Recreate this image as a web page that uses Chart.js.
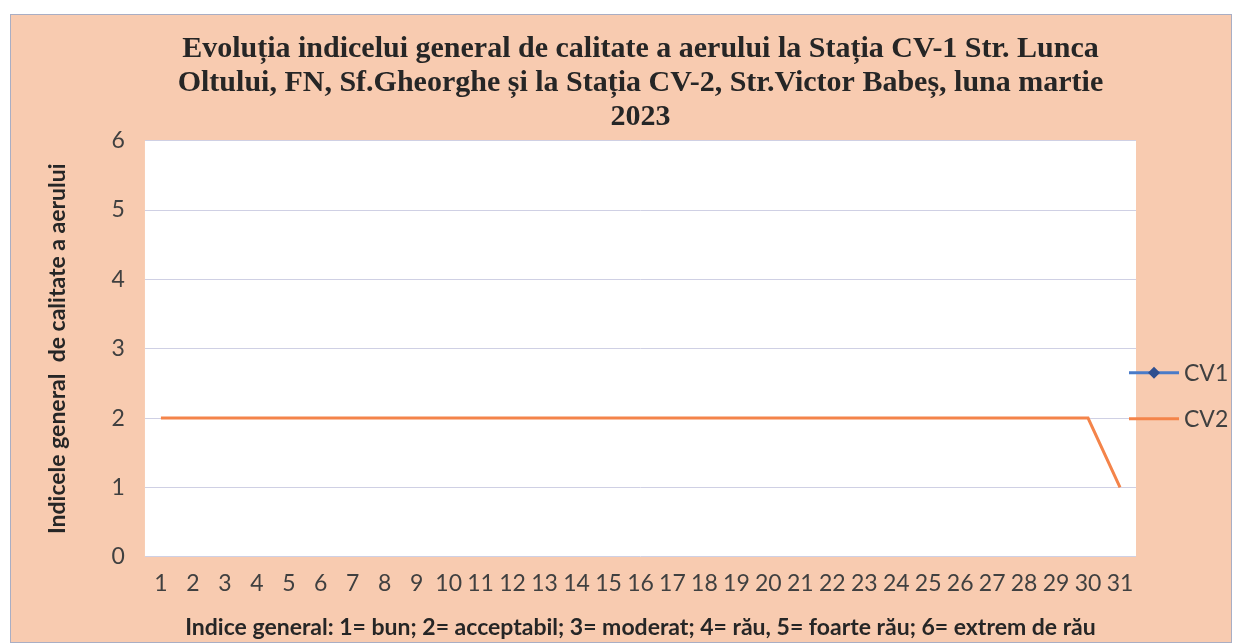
<!DOCTYPE html>
<html lang="ro">
<head>
    <meta charset="UTF-8">
    <title>Indicele general de calitate a aerului - martie 2023</title>
    <script src="https://cdn.jsdelivr.net/npm/chart.js"></script>
    <style>
        body { margin: 0; background: #fff; }
        #box {
            position: absolute; left: 10px; top: 14px;
            width: 1222px; height: 629px;
            background: #f8cbb0;
            border: 1px solid #a9aec4; box-sizing: border-box;
        }
    </style>
</head>
<body>
    <div id="box"><canvas id="aqi-chart"></canvas></div>

    <script>
        // zilele lunii martie 2023
        const days = ['1','2','3','4','5','6','7','8','9','10','11','12','13','14','15','16',
                      '17','18','19','20','21','22','23','24','25','26','27','28','29','30','31'];
        // CV1 - fara date in luna martie
        const cv1 = [null,null,null,null,null,null,null,null,null,null,null,null,null,null,null,null,
                     null,null,null,null,null,null,null,null,null,null,null,null,null,null,null];
        const cv2 = [2,2,2,2,2,2,2,2,2,2,2,2,2,2,2,2,2,2,2,2,2,2,2,2,2,2,2,2,2,2,1];
        const seriesNames = ['CV1', 'CV2'];
        const titleLines = [
            'Evoluția indicelui general de calitate a aerului la Stația CV-1 Str. Lunca',
            'Oltului, FN, Sf.Gheorghe și la Stația CV-2, Str.Victor Babeș, luna martie',
            '2023'
        ];

        // white plot area
        const plotBg = {
            id: 'plotBg',
            beforeDraw(chart) {
                const a = chart.chartArea, ctx = chart.ctx;
                ctx.save();
                ctx.fillStyle = '#ffffff';
                ctx.fillRect(a.left, a.top, a.right - a.left, a.bottom - a.top);
                ctx.restore();
            }
        };

        // legend on the right, line + marker like the excel one
        const sideLegend = {
            id: 'sideLegend',
            afterDraw(chart) {
                const ctx = chart.ctx;
                const a = chart.chartArea;
                const x0 = a.right - 7, yMid = (a.top + a.bottom) / 2;
                chart.data.datasets.forEach((ds, i) => {
                    const y = yMid + 24 + i * 46;
                    ctx.save();
                    ctx.strokeStyle = ds.borderColor;
                    ctx.lineWidth = 3;
                    ctx.beginPath();
                    ctx.moveTo(x0, y);
                    ctx.lineTo(x0 + 50, y);
                    ctx.stroke();
                    if (ds.pointStyle === 'rectRot') {
                        ctx.fillStyle = '#2f4f8f';
                        ctx.beginPath();
                        ctx.moveTo(x0 + 25, y - 6);
                        ctx.lineTo(x0 + 31, y);
                        ctx.lineTo(x0 + 25, y + 6);
                        ctx.lineTo(x0 + 19, y);
                        ctx.closePath();
                        ctx.fill();
                    }
                    ctx.fillStyle = '#404040';
                    ctx.font = '23px Lato';
                    ctx.textBaseline = 'middle';
                    ctx.fillText(ds.label, x0 + 55, y + 1);
                    ctx.restore();
                });
            }
        };

        new Chart(document.getElementById('aqi-chart'), {
            type: 'line',
            data: {
                labels: days,
                datasets: [{
                    label: seriesNames[0],
                    data: cv1,
                    borderColor: '#4a7bc8',
                    backgroundColor: '#2f4f8f',
                    borderWidth: 3,
                    pointStyle: 'rectRot',
                    pointRadius: 6
                }, {
                    label: seriesNames[1],
                    data: cv2,
                    borderColor: '#f4844a',
                    backgroundColor: '#f4844a',
                    borderWidth: 3,
                    pointRadius: 0,
                    tension: 0
                }]
            },
            options: {
                responsive: true,
                maintainAspectRatio: false,
                animation: false,
                layout: { padding: { top: 4, right: 95, bottom: 1, left: 0 } },
                plugins: {
                    legend: { display: false },
                    tooltip: { enabled: false },
                    title: {
                        display: true,
                        fullSize: false,
                        text: titleLines,
                        color: '#262626',
                        font: { family: '"Liberation Serif", "Times New Roman", serif', size: 30, weight: 'bold', lineHeight: 1.13 },
                        padding: { top: 13, bottom: 7 }
                    }
                },
                scales: {
                    x: {
                        offset: true,
                        grid: { display: false, drawTicks: false },
                        border: { display: false },
                        ticks: {
                            color: '#404040',
                            font: { family: 'Lato', size: 23 },
                            maxRotation: 0,
                            autoSkip: false,
                            padding: 13
                        },
                        title: {
                            display: true,
                            text: 'Indice general: 1= bun; 2= acceptabil; 3= moderat; 4= rău, 5= foarte rău; 6= extrem de rău',
                            color: '#262626',
                            font: { family: 'Lato', size: 23, weight: 'bold' },
                            padding: { top: 3, bottom: 0 }
                        }
                    },
                    y: {
                        min: 0,
                        max: 6,
                        grid: { color: '#cfd0e4', lineWidth: 1, drawTicks: false },
                        border: { display: false },
                        ticks: {
                            stepSize: 1,
                            color: '#404040',
                            font: { family: 'Lato', size: 23 },
                            padding: 20
                        },
                        title: {
                            display: true,
                            text: 'Indicele general  de calitate a aerului',
                            color: '#262626',
                            font: { family: 'Lato', size: 23, weight: 'bold' },
                            padding: { top: 33, bottom: 20 }
                        }
                    }
                }
            },
            plugins: [plotBg, sideLegend]
        });
    </script>
</body>
</html>
